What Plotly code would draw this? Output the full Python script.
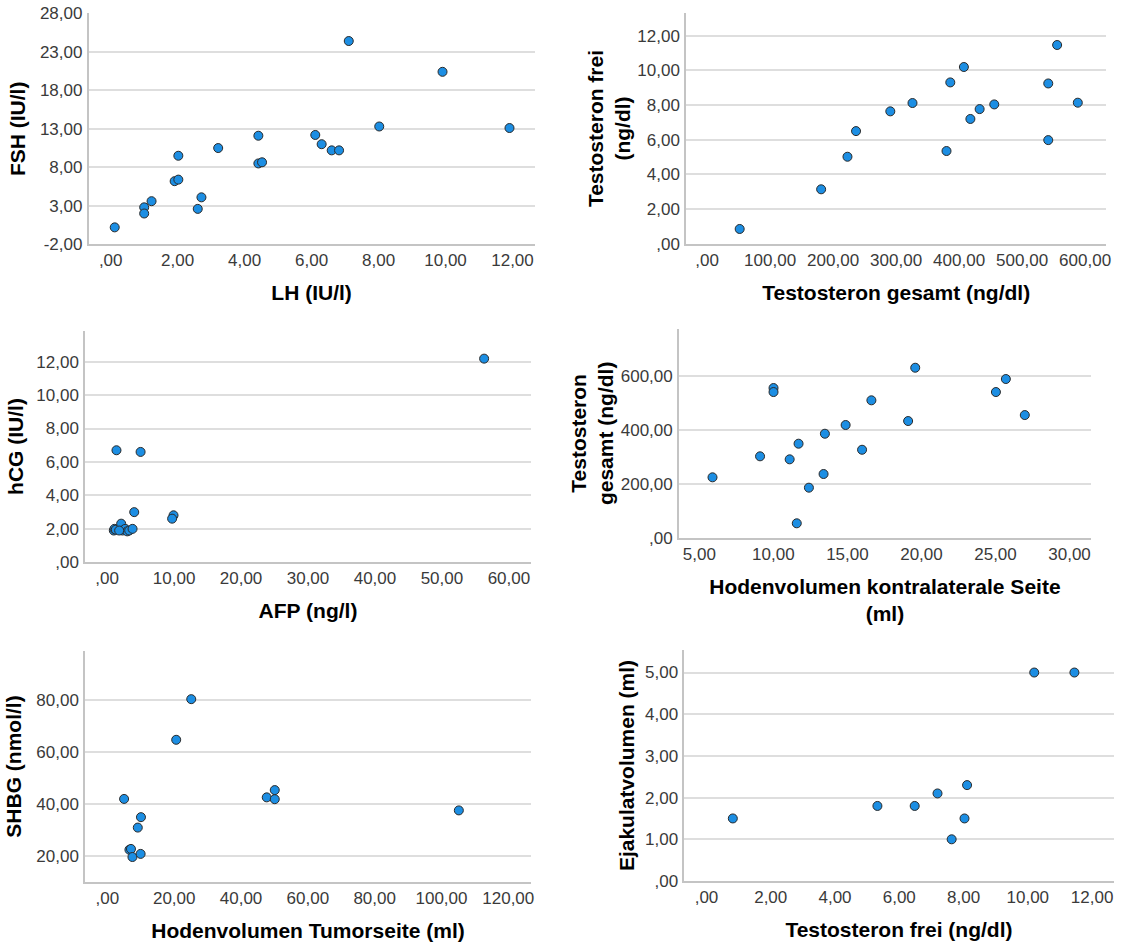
import plotly.graph_objects as go

# ---------------- data ----------------
# Panel 1: LH vs FSH
lh = [0.12, 1.0, 1.0, 1.22, 1.91, 2.02, 2.02, 2.6, 2.71, 3.21, 4.41, 4.41, 4.52,
      6.11, 6.3, 6.6, 6.82, 7.11, 8.02, 9.91, 11.91]
fsh = [0.2, 2.8, 2.0, 3.6, 6.2, 6.4, 9.5, 2.6, 4.1, 10.5, 12.1, 8.5, 8.65,
       12.2, 11.0, 10.2, 10.2, 24.4, 13.3, 20.4, 13.1]

# Panel 2: Testosteron gesamt vs Testosteron frei
t_gesamt = [51.7, 181, 222.8, 236.4, 290.8, 326, 380, 386, 407.6, 417.9, 432.6,
            455.8, 541.5, 541.5, 555.6, 588.4]
t_frei = [0.85, 3.14, 5.02, 6.5, 7.64, 8.12, 5.35, 9.31, 10.2, 7.2, 7.77,
          8.04, 9.25, 5.98, 11.47, 8.14]

# Panel 3: AFP vs hCG
afp = [56.3, 1.4, 5.0, 4.05, 9.92, 9.71, 1.0, 1.1, 1.3, 2.1, 2.3, 2.7, 3.0, 3.3, 3.8, 1.8]
hcg = [12.18, 6.7, 6.6, 3.0, 2.81, 2.61, 1.9, 2.0, 1.95, 2.31, 1.9, 2.0, 1.85, 1.9, 2.0, 1.9]

# Panel 4: Hodenvolumen kontralateral vs Testosteron gesamt
hv_kontra = [5.89, 9.1, 10.01, 10.01, 11.1, 11.58, 11.7, 12.4, 13.39, 13.48, 14.88,
             15.99, 16.62, 19.1, 19.58, 25.03, 25.7, 26.98]
t_gesamt_2 = [224.5, 302.6, 556.5, 541.6, 291.4, 53.5, 349.5, 186, 236.8, 386.6, 419,
              327, 510.8, 433.8, 632, 541.6, 590, 456]

# Panel 5: Hodenvolumen Tumorseite vs SHBG
hv_tumor = [5.0, 6.6, 7.06, 7.5, 9.1, 10.05, 9.95, 20.6, 25.1, 47.7, 50.1, 50.1, 105.2]
shbg = [41.9, 22.4, 22.7, 19.6, 30.9, 34.9, 20.8, 64.6, 80.2, 42.5, 45.3, 41.8, 37.5]

# Panel 6: Testosteron frei vs Ejakulatvolumen
t_frei_2 = [0.82, 5.32, 6.48, 7.19, 7.63, 8.03, 8.11, 10.2, 11.45]
ejakulat = [1.5, 1.8, 1.8, 2.1, 1.0, 1.5, 2.3, 5.0, 5.0]

# Tick values / labels
x1_vals = [0, 2, 4, 6, 8, 10, 12]
x1_text = [",00", "2,00", "4,00", "6,00", "8,00", "10,00", "12,00"]
y1_vals = [-2, 3, 8, 13, 18, 23, 28]
y1_text = ["-2,00", "3,00", "8,00", "13,00", "18,00", "23,00", "28,00"]

x2_vals = [0, 100, 200, 300, 400, 500, 600]
x2_text = [",00", "100,00", "200,00", "300,00", "400,00", "500,00", "600,00"]
y2_vals = [0, 2, 4, 6, 8, 10, 12]
y2_text = [",00", "2,00", "4,00", "6,00", "8,00", "10,00", "12,00"]

x3_vals = [0, 10, 20, 30, 40, 50, 60]
x3_text = [",00", "10,00", "20,00", "30,00", "40,00", "50,00", "60,00"]
y3_vals = [0, 2, 4, 6, 8, 10, 12]
y3_text = [",00", "2,00", "4,00", "6,00", "8,00", "10,00", "12,00"]

x4_vals = [5, 10, 15, 20, 25, 30]
x4_text = ["5,00", "10,00", "15,00", "20,00", "25,00", "30,00"]
y4_vals = [0, 200, 400, 600]
y4_text = [",00", "200,00", "400,00", "600,00"]

x5_vals = [0, 20, 40, 60, 80, 100, 120]
x5_text = [",00", "20,00", "40,00", "60,00", "80,00", "100,00", "120,00"]
y5_vals = [20, 40, 60, 80]
y5_text = ["20,00", "40,00", "60,00", "80,00"]

x6_vals = [0, 2, 4, 6, 8, 10, 12]
x6_text = [",00", "2,00", "4,00", "6,00", "8,00", "10,00", "12,00"]
y6_vals = [0, 1, 2, 3, 4, 5]
y6_text = [",00", "1,00", "2,00", "3,00", "4,00", "5,00"]

# ---------------- layout helpers ----------------
W, H = 1125, 947


def xd(a, b):
    return [a / W, b / W]


def yd(top, bottom):
    return [1 - bottom / H, 1 - top / H]


panels = [
    dict(x=lh, y=fsh, xdom=xd(88.6, 534.6), ydom=yd(13.3, 244.3),
         xr=[-0.66, 12.66], yr=[-2, 28], xv=x1_vals, xt=x1_text, yv=y1_vals, yt=y1_text,
         xtitle="LH (IU/l)", ytitle="FSH (IU/l)", ystand=9),
    dict(x=t_gesamt, y=t_frei, xdom=xd(686, 1106.4), ydom=yd(13.3, 243.7),
         xr=[-33.5, 633.8], yr=[0, 13.3], xv=x2_vals, xt=x2_text, yv=y2_vals, yt=y2_text,
         xtitle="Testosteron gesamt (ng/dl)", ytitle="Testosteron frei<br>(ng/dl)", ystand=1),
    dict(x=afp, y=hcg, xdom=xd(85, 531), ydom=yd(330.7, 562.3),
         xr=[-3.3, 63.3], yr=[0, 13.85], xv=x3_vals, xt=x3_text, yv=y3_vals, yt=y3_text,
         xtitle="AFP (ng/l)", ytitle="hCG (IU/l)", ystand=7),
    dict(x=hv_kontra, y=t_gesamt_2, xdom=xd(678.9, 1091), ydom=yd(329, 537.7),
         xr=[3.62, 31.45], yr=[0, 776], xv=x4_vals, xt=x4_text, yv=y4_vals, yt=y4_text,
         xtitle="Hodenvolumen kontralaterale Seite<br>(ml)", ytitle="Testosteron<br>gesamt (ng/dl)",
         ystand=1),
    dict(x=hv_tumor, y=shbg, xdom=xd(85, 531), ydom=yd(650.7, 882.3),
         xr=[-6.7, 126.8], yr=[9.9, 98.8], xv=x5_vals, xt=x5_text, yv=y5_vals, yt=y5_text,
         xtitle="Hodenvolumen Tumorseite (ml)", ytitle="SHBG (nmol/l)", ystand=9),
    dict(x=t_frei_2, y=ejakulat, xdom=xd(684.3, 1113.6), ydom=yd(650, 881),
         xr=[-0.69, 12.67], yr=[0, 5.54], xv=x6_vals, xt=x6_text, yv=y6_vals, yt=y6_text,
         xtitle="Testosteron frei (ng/dl)", ytitle="Ejakulatvolumen (ml)", ystand=5),
]

MARKER_FILL = "#1c8ee3"
MARKER_LINE = "#2a2a2a"
GRID = "#dedede"
AXIS = "#c4c4c4"
TICKFONT = dict(family="Liberation Sans, Arial, sans-serif", size=17, color="#3a3a3a")
TITLEFONT = dict(family="Liberation Sans, Arial, sans-serif", size=21, color="#000000")

fig = go.Figure()
layout = dict(
    width=W, height=H,
    margin=dict(l=0, r=0, t=0, b=0),
    paper_bgcolor="white", plot_bgcolor="white",
    showlegend=False,
)

for i, p in enumerate(panels, start=1):
    xa = "x" if i == 1 else f"x{i}"
    ya = "y" if i == 1 else f"y{i}"
    fig.add_trace(go.Scatter(
        x=p["x"], y=p["y"], mode="markers", xaxis=xa, yaxis=ya,
        marker=dict(size=9, color=MARKER_FILL, line=dict(color=MARKER_LINE, width=1)),
        hoverinfo="x+y",
    ))
    xkey = "xaxis" if i == 1 else f"xaxis{i}"
    ykey = "yaxis" if i == 1 else f"yaxis{i}"
    layout[xkey] = dict(
        domain=p["xdom"], anchor=ya, range=p["xr"],
        tickmode="array", tickvals=p["xv"], ticktext=p["xt"],
        showgrid=False, zeroline=False,
        showline=True, linecolor=AXIS, linewidth=1.5,
        ticks="",
        tickfont=TICKFONT,
        title=dict(text="<b>" + p["xtitle"].replace("<br>", "</b><br><b>") + "</b>",
                   font=TITLEFONT, standoff=16),
        automargin=False,
    )
    layout[ykey] = dict(
        domain=p["ydom"], anchor=xa, range=p["yr"],
        tickmode="array", tickvals=p["yv"], ticktext=p["yt"],
        showgrid=True, gridcolor=GRID, gridwidth=1.5, zeroline=False,
        showline=True, linecolor=AXIS, linewidth=1.5,
        ticks="outside", ticklen=1, tickcolor="rgba(0,0,0,0)",
        tickfont=TICKFONT,
        title=dict(text="<b>" + p["ytitle"].replace("<br>", "</b><br><b>") + "</b>",
                   font=TITLEFONT, standoff=p["ystand"]),
        automargin=False,
    )

fig.update_layout(**layout)
fig.write_html("out.html")
